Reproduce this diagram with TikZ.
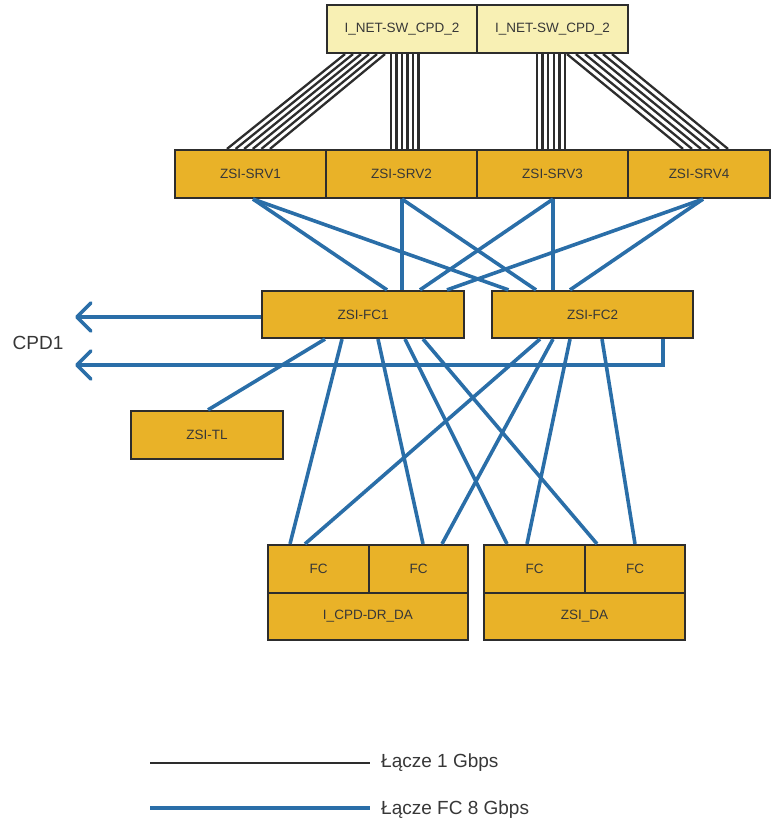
\documentclass[tikz,border=0pt]{standalone}
\usepackage{fontspec}
\setmainfont{Liberation Sans}
\usetikzlibrary{arrows.meta}
\definecolor{boxgold}{RGB}{233,178,40}
\definecolor{netyellow}{RGB}{248,240,180}
\definecolor{fcblue}{RGB}{42,110,168}
\definecolor{cabledark}{RGB}{45,45,45}
\definecolor{labelgray}{RGB}{55,55,55}
\tikzset{
  unit/.style={draw=cabledark, line width=2.2pt, fill=boxgold, inner sep=0pt,
    minimum height=48pt, text=labelgray, font=\fontsize{13.5}{15}\selectfont},
  netunit/.style={unit, fill=netyellow},
  gbline/.style={draw=cabledark, line width=2.3pt},
  fcline/.style={draw=fcblue, line width=3.6pt},
  cpdarrow/.style={fcline, -{Straight Barb[length=14pt,width=28pt,round]}},
  keytext/.style={inner sep=0pt, anchor=west, text=labelgray, font=\fontsize{19}{21}\selectfont}
}

\begin{document}
\begin{tikzpicture}[x=1pt,y=-1pt]
	\useasboundingbox (0,0) rectangle (771,824);
	%%%%% SWITCHES %%%%%
	\node[netunit, minimum width=150pt] (net1) at (402,29) {I\_NET-SW\_CPD\_2};
	\node[netunit, minimum width=151pt] (net2) at (552.5,29) {I\_NET-SW\_CPD\_2};
	
	%%%%% SERVERS %%%%%
	\node[unit, minimum width=151pt] (srv1) at (250.5,174) {ZSI-SRV1};
	\node[unit, minimum width=151pt] (srv2) at (401.5,174) {ZSI-SRV2};
	\node[unit, minimum width=151pt] (srv3) at (552.5,174) {ZSI-SRV3};
	\node[unit, minimum width=142pt] (srv4) at (699,174) {ZSI-SRV4};
	
	%%%%% FC SWITCHES, LIBRARY %%%%%
	\node[unit, minimum width=202pt, minimum height=47pt] (fc1) at (363,314.5) {ZSI-FC1};
	\node[unit, minimum width=201pt, minimum height=47pt] (fc2) at (592.5,314.5) {ZSI-FC2};
	\node[unit, minimum width=152pt] (tl) at (207,435) {ZSI-TL};
	
	%%%%% DISK ARRAYS %%%%%
	\node[unit, minimum width=101pt] (drA) at (318.5,569) {FC};
	\node[unit, minimum width=99pt] (drB) at (418.5,569) {FC};
	\node[unit, minimum width=200pt, minimum height=47pt] (drDA) at (368,616.5) {I\_CPD-DR\_DA};
	\node[unit, minimum width=101pt] (daA) at (534.5,569) {FC};
	\node[unit, minimum width=100pt] (daB) at (635,569) {FC};
	\node[unit, minimum width=201pt, minimum height=47pt] (daDA) at (584.5,616.5) {ZSI\_DA};
	
	%%%%% 1 Gbps BUNDLES %%%%%
	\foreach \i in {0,...,5}{
		\draw[gbline] ([xshift=-57+8*\i]net1.south) -- ([xshift=-23.5+8.6*\i]srv1.north);
		\draw[gbline] ([xshift=-11+5.5*\i]net1.south) -- ([xshift=-11+5.5*\i]net1.south |- srv2.north);
		\draw[gbline] ([xshift=-15.5+5.6*\i]net2.south) -- ([xshift=-15.5+5.6*\i]net2.south |- srv3.north);
		\draw[gbline] ([xshift=14.5+9*\i]net2.south) -- ([xshift=-16+9*\i]srv4.north);
	}
	
	%%%%% FC 8 Gbps LINKS %%%%%
	\foreach \s/\o/\p/\q in {srv1/2.5/24/-84, srv2/0.5/39/-56.5, srv3/0.5/57/-39.5, srv4/4/84/-22.5}{
		\draw[fcline] ([xshift=\o]\s.south) -- ([xshift=\p]fc1.north);
		\draw[fcline] ([xshift=\o]\s.south) -- ([xshift=\q]fc2.north);
	}
	\foreach \f/\o/\t/\p in {fc1/-38/tl/1, fc1/-21/drA/-28.5, fc1/15/drB/4.5, fc1/42/daA/-27.5, fc1/60/daB/-38,
		fc2/-52.5/drA/-13.5, fc2/-39.5/drB/23.5, fc2/-22.5/daA/-7.5, fc2/9.5/daB/0}{
		\draw[fcline] ([xshift=\o]\f.south) -- ([xshift=\p]\t.north);
	}
	
	%%%%% TO CPD1 %%%%%
	\coordinate (cpdA) at (75,317);
	\coordinate (cpdB) at (75,365);
	\draw[cpdarrow] (cpdA -| fc1.west) -- (cpdA);
	\draw[cpdarrow] ([xshift=70.5]fc2.south) |- (cpdB);
	\node[text=labelgray, font=\fontsize{19}{21}\selectfont] (cpd) at (38,343) {CPD1};
	
	%%%%% LEGEND %%%%%
	\node[keytext] (keyA) at (381,763) {Łącze 1 Gbps};
	\node[keytext] (keyB) at (381,810) {Łącze FC 8 Gbps};
	\coordinate (keyAs) at (150,763);
	\coordinate (keyBs) at (150,808);
	\draw[gbline] (keyAs) -- ([xshift=-11]keyA.west);
	\draw[fcline, line width=4.5pt] (keyBs) -- ([xshift=-11]keyB.west |- keyBs);
\end{tikzpicture}
\end{document}
